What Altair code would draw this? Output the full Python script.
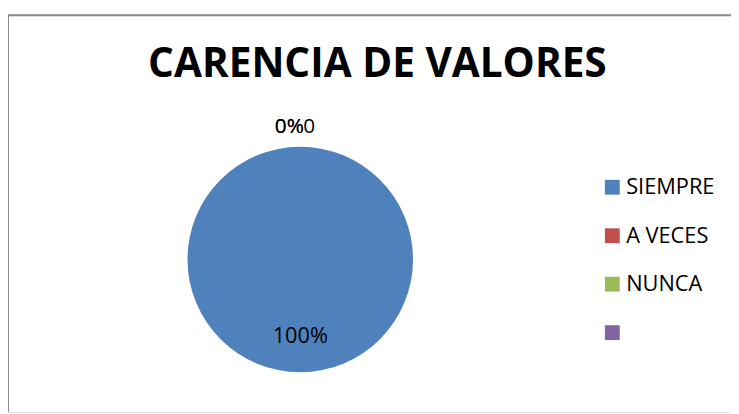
import altair as alt
import pandas as pd

categories = ["SIEMPRE", "A VECES", "NUNCA", ""]
values = [100, 0, 0, 0]
labels = ["100%", "0%", "0%", "0"]
colors = ["#4F81BD", "#C0504D", "#9BBB59", "#8064A2"]

df = pd.DataFrame({"cat": categories, "val": values, "lab": labels, "ord": list(range(4))})

W, H = 731, 401
CX, CY, R = 295.5, 247, 114

base = alt.Chart(df).encode(
    theta=alt.Theta("val:Q", stack=True),
    order=alt.Order("ord:O"),
    x=alt.value(CX),
    y=alt.value(CY),
)

arc = base.mark_arc(radius=R).encode(
    color=alt.Color(
        "cat:N",
        scale=alt.Scale(domain=categories, range=colors),
        sort=categories,
        legend=alt.Legend(
            title=None,
            orient="none",
            legendX=600,
            legendY=163,
            symbolType="square",
            symbolSize=225,
            symbolStrokeWidth=0,
            labelFont="Open Sans",
            labelFontSize=22,
            labelColor="black",
            labelOffset=3,
            rowPadding=27,
            padding=0,
        ),
    )
)

txt100 = base.mark_text(font="Open Sans", fontSize=22, color="black", align="center", baseline="middle", radius=77.5).encode(
    text="lab:N"
).transform_filter(alt.datum.ord == 0)

txt0a = base.mark_text(font="Open Sans", fontSize=21, color="black", align="center", baseline="middle", radius=133.5, dx=-11).encode(
    text="lab:N"
).transform_filter((alt.datum.ord == 1) | (alt.datum.ord == 2))

txt0b = base.mark_text(font="Open Sans", fontSize=21, color="black", align="center", baseline="middle", radius=133.5, dx=9).encode(
    text="lab:N"
).transform_filter(alt.datum.ord == 3)

frame_data = alt.Data(values=[{"k": 1}])
top_rule = alt.Chart(frame_data).mark_rule(color="#898989", strokeWidth=2).encode(
    x=alt.value(0), x2=alt.value(W), y=alt.value(0)
)
left_rule = alt.Chart(frame_data).mark_rule(color="#898989", strokeWidth=2).encode(
    x=alt.value(0), y=alt.value(0), y2=alt.value(H)
)

chart = alt.layer(arc, txt100, txt0a, txt0b, top_rule, left_rule).properties(
    width=W,
    height=H,
    autosize=alt.AutoSizeParams(type="none"),
    padding={"left": 0, "top": 5, "right": 0, "bottom": 0},
    title=alt.Title(
        "CARENCIA DE VALORES",
        font="Open Sans",
        fontSize=41,
        fontWeight="bold",
        color="black",
        anchor="middle",
        dx=8,
        baseline="alphabetic",
        offset=-105,
    ),
).configure_view(stroke=None).configure(background="white")

chart.save("out.html", embed_options={"renderer": "svg", "actions": False})
